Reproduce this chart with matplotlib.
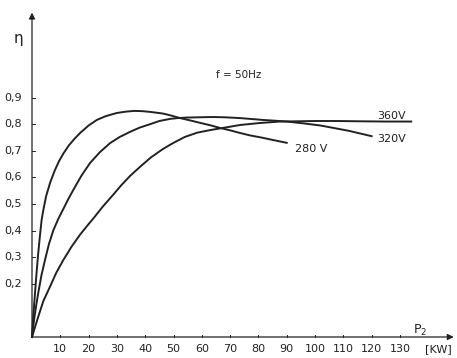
import matplotlib.pyplot as plt

# efficiency curves eta(P2) for three supply voltages, f = 50 Hz
p_280 = [0, 0.4, 1.06, 1.6, 2.2, 2.8, 3.4, 4.0, 5, 6.4, 8, 9.5, 11.1, 13, 15, 17, 20, 22.9, 26, 29.9,
         33, 36, 39, 42, 46.3, 49, 52.3, 56, 59.4, 63, 66.4, 70, 73.5, 77, 81, 85, 90]
eta_280 = [0, 0.07, 0.165, 0.24, 0.315, 0.38, 0.44, 0.477, 0.53, 0.58, 0.625, 0.66, 0.69, 0.72, 0.745, 0.767, 0.795, 0.816, 0.83, 0.842,
           0.847, 0.85, 0.849, 0.846, 0.84, 0.833, 0.823, 0.814, 0.805, 0.796, 0.786, 0.777, 0.767, 0.758, 0.75, 0.741, 0.73]

p_320 = [0, 0.8, 1.5, 2.2, 3.3, 4.6, 6, 7.5, 9.2, 11.1, 12.8, 14.6, 17.5, 20.5, 24, 27.6, 31, 34.6, 38, 41.7,
         45, 48.8, 51.5, 54.8, 59, 64, 68, 73.5, 77, 81.6, 86, 90, 96, 102, 107, 112, 116, 120]
eta_320 = [0, 0.07, 0.12, 0.165, 0.23, 0.29, 0.35, 0.40, 0.442, 0.482, 0.518, 0.553, 0.607, 0.654, 0.695, 0.729, 0.752, 0.771, 0.787, 0.80,
           0.812, 0.82, 0.823, 0.825, 0.826, 0.827, 0.826, 0.823, 0.82, 0.816, 0.813, 0.81, 0.803, 0.795, 0.785, 0.775, 0.765, 0.755]

p_360 = [0, 1, 2.2, 4, 6.4, 8.5, 11.1, 14, 17, 19.5, 21.7, 25, 28.7, 31.5, 34.6, 38.2, 42, 46.3, 50, 54,
         58.3, 63, 67.5, 73.5, 80, 87.6, 94, 100, 108, 115, 125, 134]
eta_360 = [0, 0.035, 0.076, 0.135, 0.19, 0.24, 0.29, 0.34, 0.385, 0.418, 0.446, 0.49, 0.535, 0.57, 0.605, 0.64, 0.675, 0.707, 0.73, 0.752,
           0.768, 0.778, 0.786, 0.797, 0.804, 0.81, 0.811, 0.812, 0.812, 0.811, 0.81, 0.81]

x_ticks = [10, 20, 30, 40, 50, 60, 70, 80, 90, 100, 110, 120, 130]
x_labels = ['10', '20', '30', '40', '50', '60', '70', '80', '90', '100', '110', '120', '130']
y_ticks = [0.2, 0.3, 0.4, 0.5, 0.6, 0.7, 0.8, 0.9]
y_labels = ['0,2', '0,3', '0,4', '0,5', '0,6', '0,7', '0,8', '0,9']

ink = '#222222'
fig = plt.figure(figsize=(4.57, 3.58), dpi=100)
ax = fig.add_axes([0, 0, 1, 1])
ax.set_xlim(-32 / 2.83, (457 - 32) / 2.83)
ax.set_ylim((337 - 358) / 266, 337 / 266)
ax.axis('off')

# axes with arrows
ax.annotate('', xy=(150, 0), xytext=(-1, 0),
            arrowprops=dict(arrowstyle='-|>', color=ink, lw=0.9, mutation_scale=9))
ax.annotate('', xy=(0, 1.23), xytext=(0, -0.005),
            arrowprops=dict(arrowstyle='-|>', color=ink, lw=0.9, mutation_scale=9))

for t, lab in zip(x_ticks, x_labels):
    ax.plot([t, t], [0, 0.008], color=ink, lw=0.7)
    ax.text(t, -0.045, lab, ha='center', va='center', fontsize=8, color=ink)
for t, lab in zip(y_ticks, y_labels):
    ax.plot([0, 1.2], [t, t], color=ink, lw=0.7)
    ax.text(-3.5, t, lab, ha='right', va='center', fontsize=8, color=ink)

ax.text(-6.5, 1.124, 'η', ha='left', va='center', fontsize=11, color=ink)
ax.text(137, 0.025, 'P$_2$', ha='center', va='center', fontsize=9, color=ink)
ax.text(143.5, -0.045, '[KW]', ha='center', va='center', fontsize=8, color=ink)
ax.text(73, 0.985, 'f = 50Hz', ha='center', va='center', fontsize=7.5, color=ink)

ax.plot(p_280, eta_280, color=ink, lw=1.4)
ax.plot(p_320, eta_320, color=ink, lw=1.4)
ax.plot(p_360, eta_360, color=ink, lw=1.4)

ax.text(93, 0.705, '280 V', ha='left', va='center', fontsize=8, color=ink)
ax.text(122, 0.745, '320V', ha='left', va='center', fontsize=8, color=ink)
ax.text(122, 0.832, '360V', ha='left', va='center', fontsize=8, color=ink)

fig.savefig('out.png', dpi=100)
